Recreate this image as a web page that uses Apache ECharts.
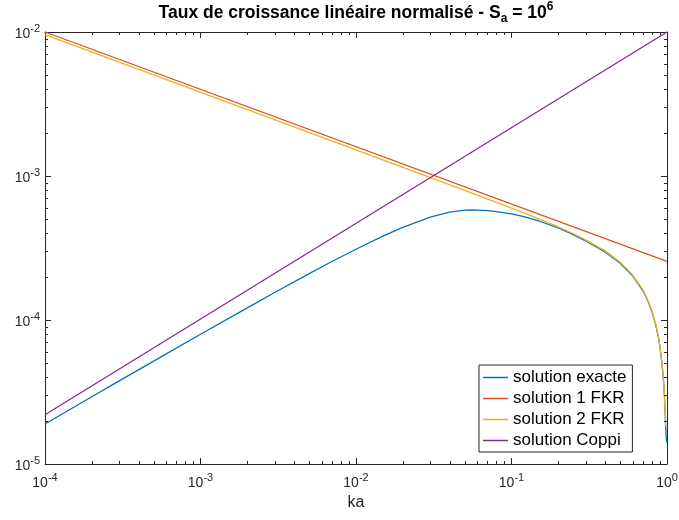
<!DOCTYPE html>
<html><head><meta charset="utf-8">
<script src="https://cdn.jsdelivr.net/npm/echarts@6/dist/echarts.min.js"></script>
<style>html,body{margin:0;padding:0;background:#fff}#c{width:679px;height:520px}</style>
</head><body><div id="c"></div>
<script>
const seriesNames = ['solution exacte', 'solution 1 FKR', 'solution 2 FKR', 'solution Coppi'];
const kaExact = [1e-4, 2e-4, 3e-4, 5e-4, 1e-3, 2e-3, 3e-3, 5e-3, 7e-3, 1e-2, 1.5e-2, 2e-2, 3e-2, 4e-2, 5e-2, 5.5e-2, 6e-2, 7e-2, 8e-2, 0.1, 0.12, 0.15, 0.2, 0.25, 0.3, 0.4, 0.5, 0.6, 0.7, 0.75, 0.8, 0.85, 0.88, 0.9, 0.93, 0.95, 0.96, 0.97, 0.98, 0.99, 1.0];
const gExact = [1.896e-5, 2.93e-5, 3.78e-5, 5.18e-5, 7.96e-5, 1.215e-4, 1.552e-4, 2.10e-4, 2.55e-4, 3.10e-4, 3.84e-4, 4.40e-4, 5.18e-4, 5.61e-4, 5.79e-4, 5.81e-4, 5.79e-4, 5.74e-4, 5.66e-4, 5.46e-4, 5.23e-4, 4.87e-4, 4.355e-4, 3.92e-4, 3.54e-4, 2.97e-4, 2.48e-4, 2.03e-4, 1.595e-4, 1.37e-4, 1.145e-4, 9.05e-5, 7.6e-5, 6.55e-5, 4.92e-5, 3.75e-5, 3.15e-5, 2.48e-5, 1.8e-5, 1.5e-5, 1.4e-5];
const kaFKR1 = [1e-4, 1];
const gFKR1 = [1e-2, 2.55e-4];
const kaFKR2 = [1e-4, 1e-2, 0.05, 0.1, 0.12, 0.15, 0.2, 0.25, 0.3, 0.4, 0.5, 0.6, 0.7, 0.75, 0.8, 0.85, 0.88, 0.9, 0.93, 0.95, 0.96, 0.97, 0.98];
const gFKR2 = [9.6e-3, 1.52e-3, 7.94e-4, 5.98e-4, 5.545e-4, 5.04e-4, 4.43e-4, 3.97e-4, 3.6e-4, 3.02e-4, 2.52e-4, 2.06e-4, 1.62e-4, 1.391e-4, 1.16e-4, 9.19e-5, 7.68e-5, 6.64e-5, 4.99e-5, 3.81e-5, 3.19e-5, 2.53e-5, 1.83e-5];
const kaCoppi = [1e-4, 1];
const gCoppi = [2.2e-5, 1e-2];
const xRange = [1e-4, 1];
const yRange = [1e-5, 1e-2];
const minorMultipliers = [2, 3, 4, 5, 6, 7, 8, 9];
const xDecades = [1e-4, 1e-3, 1e-2, 1e-1];
const yDecades = [1e-5, 1e-4, 1e-3];
const colors = ['#0072BD', '#D95319', '#EDB120', '#7E2F8E'];

const axisColor = '#262626';
const FONT = '"Liberation Sans", Helvetica, Arial, sans-serif';

function pairs(xs, ys) { return xs.map((x, i) => [x, ys[i]]); }
const xMinor = [], yMinor = [];
xDecades.forEach(d => minorMultipliers.forEach(m => xMinor.push(d * m)));
yDecades.forEach(d => minorMultipliers.forEach(m => yMinor.push(d * m)));

function powLabel(v) {
  const e = Math.round(Math.log10(v));
  return '{b|10}{s|' + (e < 0 ? '-' + (-e) : e) + '}';
}
const labelRich = {
  b: { fontSize: 14, fontFamily: FONT, color: axisColor, lineHeight: 18, verticalAlign: 'bottom' },
  s: { fontSize: 11, fontFamily: FONT, color: axisColor, lineHeight: 11, verticalAlign: 'top' }
};

function logAxis(pos, range, showLabel, margin) {
  return {
    type: 'log', logBase: 10, min: range[0], max: range[1], position: pos,
    axisLine: { show: true, onZero: false, lineStyle: { color: axisColor, width: 1 } },
    axisTick: { show: true, inside: true, length: 6, lineStyle: { color: axisColor, width: 1 } },
    splitLine: { show: false },
    minorTick: { show: false },
    axisLabel: { show: showLabel, formatter: powLabel, rich: labelRich, margin: margin, hideOverlap: false, showMinLabel: true, showMaxLabel: true }
  };
}

function minorTickSeries(values, isX) {
  return {
    type: 'custom', silent: true, clip: false, z: 5,
    xAxisIndex: 0, yAxisIndex: 0,
    data: values.map(v => isX ? [v, yRange[0]] : [xRange[0], v]),
    renderItem: (params, api) => {
      const v = api.value(isX ? 0 : 1);
      const L = 3;
      let a, b;
      if (isX) {
        a = api.coord([v, yRange[0]]); b = api.coord([v, yRange[1]]);
        const x = Math.round(a[0]) + 0.5;
        return { type: 'group', children: [
          { type: 'line', shape: { x1: x, y1: a[1], x2: x, y2: a[1] - L }, style: { stroke: axisColor, lineWidth: 1 } },
          { type: 'line', shape: { x1: x, y1: b[1], x2: x, y2: b[1] + L }, style: { stroke: axisColor, lineWidth: 1 } }
        ] };
      } else {
        a = api.coord([xRange[0], v]); b = api.coord([xRange[1], v]);
        const y = Math.round(a[1]) + 0.5;
        return { type: 'group', children: [
          { type: 'line', shape: { x1: a[0], y1: y, x2: a[0] + L, y2: y }, style: { stroke: axisColor, lineWidth: 1 } },
          { type: 'line', shape: { x1: b[0], y1: y, x2: b[0] - L, y2: y }, style: { stroke: axisColor, lineWidth: 1 } }
        ] };
      }
    }
  };
}

function lineSeries(i, xs, ys) {
  return {
    name: seriesNames[i], type: 'line', data: pairs(xs, ys),
    xAxisIndex: 0, yAxisIndex: 0,
    showSymbol: false, symbol: 'none', smooth: false, z: 3 + i * 0.1,
    lineStyle: { color: colors[i], width: 1.3 }, itemStyle: { color: colors[i] },
    emphasis: { disabled: true }, animation: false
  };
}

const chart = echarts.init(document.getElementById('c'), null, { renderer: 'canvas' });
chart.setOption({
  animation: false,
  backgroundColor: '#ffffff',
  grid: { left: 45, right: 12, top: 32, bottom: 56, containLabel: false, outerBoundsMode: 'none' },
  xAxis: [logAxis('bottom', xRange, true, 8), logAxis('top', xRange, false, 8)],
  yAxis: [logAxis('left', yRange, true, 5), logAxis('right', yRange, false, 5)],
  legend: {
    data: seriesNames.map((n, i) => ({ name: n, icon: 'rect', itemStyle: { color: colors[i] } })),
    orient: 'vertical', left: 479, top: 365,
    backgroundColor: '#ffffff', borderColor: axisColor, borderWidth: 1, borderRadius: 0,
    padding: [4, 6, 3, 4], itemWidth: 25, itemHeight: 1.5, itemGap: 4,
    textStyle: { fontSize: 17, fontFamily: FONT, color: '#000', lineHeight: 17 },
    selectedMode: false
  },
  graphic: [
    { type: 'text', x: 356, y: 13, z: 10, style: {
      text: '{t|Taux de croissance linéaire normalisé - S}{sub|a}{t| = 10}{sup|6}',
      align: 'center', verticalAlign: 'middle',
      rich: {
        t: { fontSize: 17.5, fontWeight: 'bold', fontFamily: FONT, fill: '#000', lineHeight: 24, verticalAlign: 'middle' },
        sub: { fontSize: 12, fontWeight: 'bold', fontFamily: FONT, fill: '#000', lineHeight: 12, verticalAlign: 'bottom' },
        sup: { fontSize: 12, fontWeight: 'bold', fontFamily: FONT, fill: '#000', lineHeight: 12, verticalAlign: 'top' }
      } } },
    { type: 'text', x: 356, y: 503, z: 10, style: { text: 'ka', align: 'center', verticalAlign: 'middle', fontSize: 16, fontFamily: FONT, fill: axisColor } }
  ],
  series: [
    lineSeries(0, kaExact, gExact),
    lineSeries(1, kaFKR1, gFKR1),
    lineSeries(2, kaFKR2, gFKR2),
    lineSeries(3, kaCoppi, gCoppi),
    minorTickSeries(xMinor, true),
    minorTickSeries(yMinor, false)
  ]
});
</script>
</body></html>
